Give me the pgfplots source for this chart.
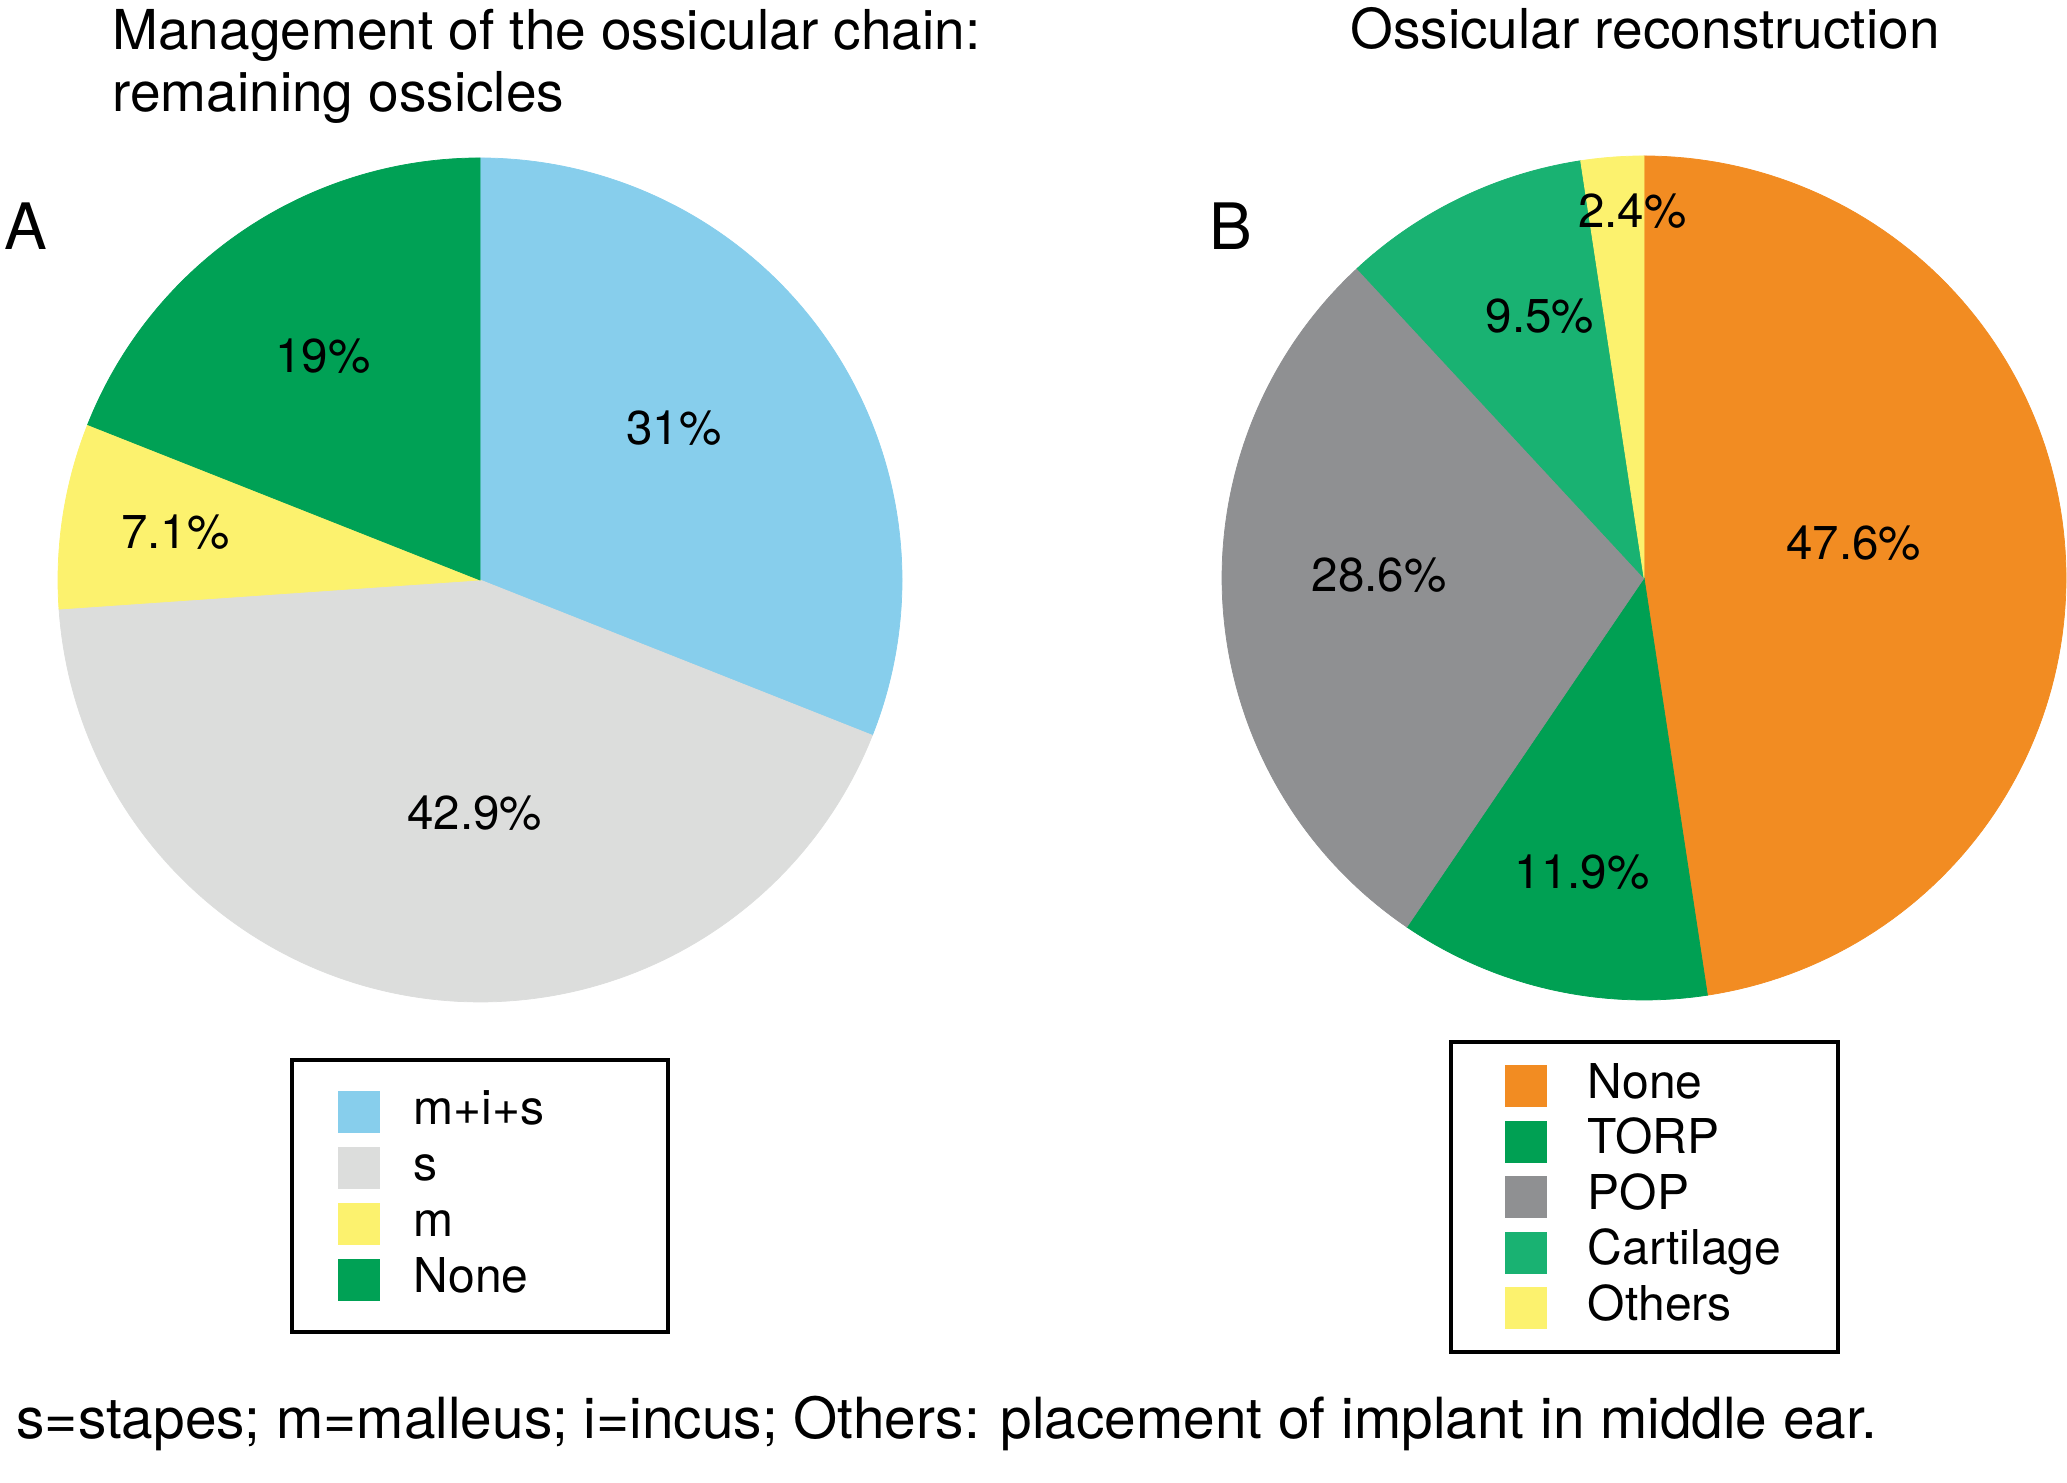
\documentclass[border=0pt]{standalone}
\usepackage{pgfplots}
\pgfplotsset{compat=1.18}
\usepackage{fontspec}
\setmainfont{TeX Gyre Heros}

\definecolor{cMIS}{HTML}{87CEEC}
\definecolor{cS}{HTML}{DCDDDC}
\definecolor{cM}{HTML}{FCF26E}
\definecolor{cNoneA}{HTML}{00A155}
\definecolor{cNoneB}{HTML}{F28C22}
\definecolor{cTORP}{HTML}{00A053}
\definecolor{cPOP}{HTML}{8F9092}
\definecolor{cCart}{HTML}{19B272}
\definecolor{cOth}{HTML}{FCF26E}

% running total of percentages already drawn
\gdef\cum{0}
\newcommand\legW{86pt}
% #1 colour, #2 percent value, #3 legend text
\newcommand\slice[3]{%
  \pgfmathsetmacro\sa{90-3.6*(\cum+#2)}%
  \pgfmathsetmacro\sb{90-3.6*\cum}%
  \edef\doplot{\noexpand\addplot[fill=#1, draw=#1, line width=0.3pt, domain=\sa:\sb, samples=120]
     ({cos(x)},{sin(x)}) -- (axis cs:0,0) -- cycle;}%
  \doplot
  \addlegendentry{\makebox[\legW][l]{#3}}%
  \pgfmathsetmacro\tmp{\cum+#2}\xdef\cum{\tmp}%
}

\pgfplotsset{
  piestyle/.style={
    x=168.8pt, y=168.8pt, xmin=-1, xmax=1, ymin=-1, ymax=1,
    hide axis, clip=false, anchor=center,
    legend cell align=left,
    legend image code/.code={\fill[##1] (0pt,-8.2pt) rectangle (16.4pt,8.2pt);},
  },
}

\begin{document}
\begin{tikzpicture}[x=0.4pt, y=0.4pt]
\useasboundingbox (0,0) rectangle (2067,1483);

% ---------------- Chart A ----------------
\begin{axis}[piestyle, at={(192pt,361.2pt)},
  legend style={at={(0.2749,-0.066)}, anchor=north west, draw=black, line width=1.6pt,
    inner xsep=18.4pt, inner ysep=9.7pt, font=\fontsize{19.2}{23}\selectfont,
    nodes={inner sep=0pt, text height=16.1pt, text depth=6.3pt}, row sep=0pt,
    /tikz/every odd column/.append style={column sep=13.6pt}},
]
\gdef\cum{0}
\renewcommand\legW{83.4pt}
\slice{cMIS}{31}{m+i+s}
\slice{cS}{42.9}{s}
\slice{cM}{7.1}{m}
\slice{cNoneA}{19}{None}
\begin{scope}[every node/.style={font=\fontsize{19}{23}\selectfont, anchor=center}]
\node at (axis cs:0.459,0.359) {31\%};
\node at (axis cs:-0.013,-0.553) {42.9\%};
\node at (axis cs:-0.722,0.1125) {7.1\%};
\node at (axis cs:-0.372,0.531) {19\%};
\end{scope}
\end{axis}

% ---------------- Chart B ----------------
\begin{axis}[piestyle, at={(657.6pt,362pt)},
  legend style={at={(0.269,-0.0474)}, anchor=north west, draw=black, line width=1.6pt,
    inner xsep=21.6pt, inner ysep=6.6pt, font=\fontsize{19.2}{23}\selectfont,
    nodes={inner sep=0pt, text height=16pt, text depth=6.2pt}, row sep=0pt,
    /tikz/every odd column/.append style={column sep=16.4pt}},
]
\gdef\cum{0}
\renewcommand\legW{78.4pt}
\slice{cNoneB}{47.6}{None}
\slice{cTORP}{11.9}{TORP}
\slice{cPOP}{28.6}{POP}
\slice{cCart}{9.5}{Cartilage}
\slice{cOth}{2.4}{Others}
\begin{scope}[every node/.style={font=\fontsize{19}{23}\selectfont, anchor=center}]
\node at (axis cs:0.497,0.0825) {47.6\%};
\node at (axis cs:-0.147,-0.698) {11.9\%};
\node at (axis cs:-0.628,0.0075) {28.6\%};
\node at (axis cs:-0.247,0.620) {9.5\%};
\node at (axis cs:-0.028,0.870) {2.4\%};
\end{scope}
\end{axis}

% ---------------- Texts ----------------
\node[anchor=base west, inner sep=0pt, font=\fontsize{22}{26}\selectfont] at (112,1433) {Management of the ossicular chain:};
\node[anchor=base west, inner sep=0pt, font=\fontsize{22}{26}\selectfont] at (112,1371) {remaining ossicles};
\node[anchor=base, inner sep=0pt, font=\fontsize{22}{26}\selectfont] at (1645,1434) {Ossicular reconstruction};
\node[anchor=base west, inner sep=0pt, font=\fontsize{25.6}{30}\selectfont] at (4,1233) {A};
\node[anchor=base west, inner sep=0pt, font=\fontsize{25.6}{30}\selectfont] at (1209,1233) {B};
\node[anchor=base west, inner sep=0pt, font=\fontsize{22.7}{27}\selectfont] at (16,44) {s=stapes; m=malleus; i=incus; Others: placement of implant in middle ear.};
\end{tikzpicture}
\end{document}
